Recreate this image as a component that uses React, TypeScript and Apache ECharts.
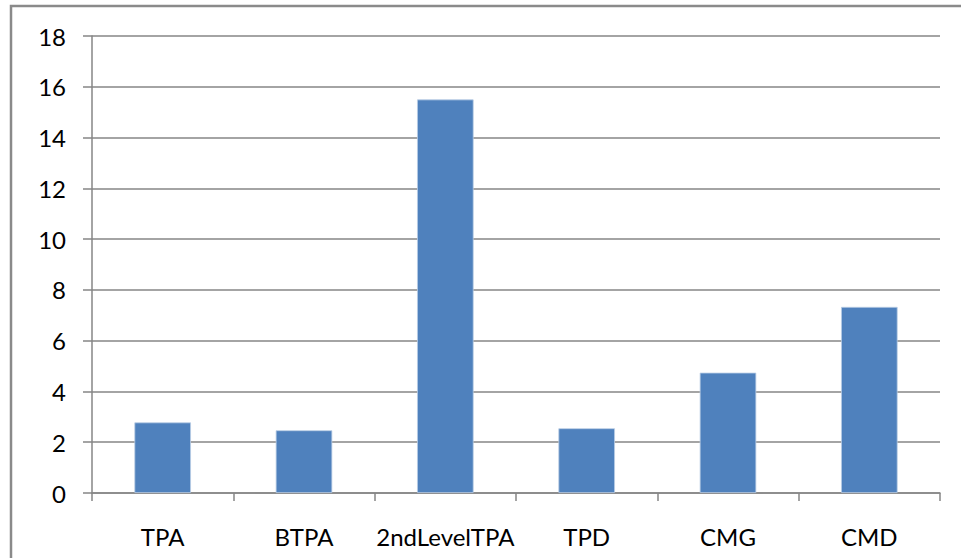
import React, { useEffect, useRef } from "react";
import * as echarts from "echarts";

const categories = ["TPA", "BTPA", "2ndLevelTPA", "TPD", "CMG", "CMD"];
const values = [2.78, 2.47, 15.5, 2.55, 4.74, 7.33];
const yMin = 0;
const yMax = 18;
const yInterval = 2;

export default function App() {
  const ref = useRef<HTMLDivElement>(null);
  useEffect(() => {
    if (!ref.current) return;
    const chart = echarts.init(ref.current, undefined, { renderer: "svg" });
    const font = "Lato, 'Open Sans', sans-serif";
    chart.setOption({
      animation: false,
      backgroundColor: "#ffffff",
      graphic: [
        {
          type: "rect",
          shape: { x: 11, y: 6, width: 1000, height: 600 },
          style: { fill: "none", stroke: "#8a8a8a", lineWidth: 2.5 },
          silent: true,
        },
      ],
      grid: { left: 92, right: 21, top: 36, bottom: 65 },
      xAxis: {
        type: "category",
        data: categories,
        axisLine: { show: true, lineStyle: { color: "#868686", width: 1.5 } },
        axisTick: { show: true, interval: 0, length: 8, lineStyle: { color: "#868686", width: 1.5 } },
        axisLabel: { color: "#000", fontSize: 24, fontFamily: font, margin: 31, interval: 0 },
      },
      yAxis: {
        type: "value",
        min: yMin,
        max: yMax,
        interval: yInterval,
        axisLine: { show: true, lineStyle: { color: "#868686", width: 1.5 } },
        axisTick: { show: true, length: 9, lineStyle: { color: "#868686", width: 1.5 } },
        splitLine: { show: true, lineStyle: { color: "#868686", width: 1.5 } },
        axisLabel: { color: "#000", fontSize: 24, fontFamily: font, margin: 26 },
      },
      series: [
        {
          type: "bar",
          data: values,
          barCategoryGap: "60%",
          itemStyle: { color: "#4F81BD", borderColor: "#b9cde5", borderWidth: 0.8 },
        },
      ],
    });
    return () => chart.dispose();
  }, []);
  return (
    <div
      ref={ref}
      style={{ position: "fixed", left: 0, top: 0, width: 961, height: 558 }}
    />
  );
}
